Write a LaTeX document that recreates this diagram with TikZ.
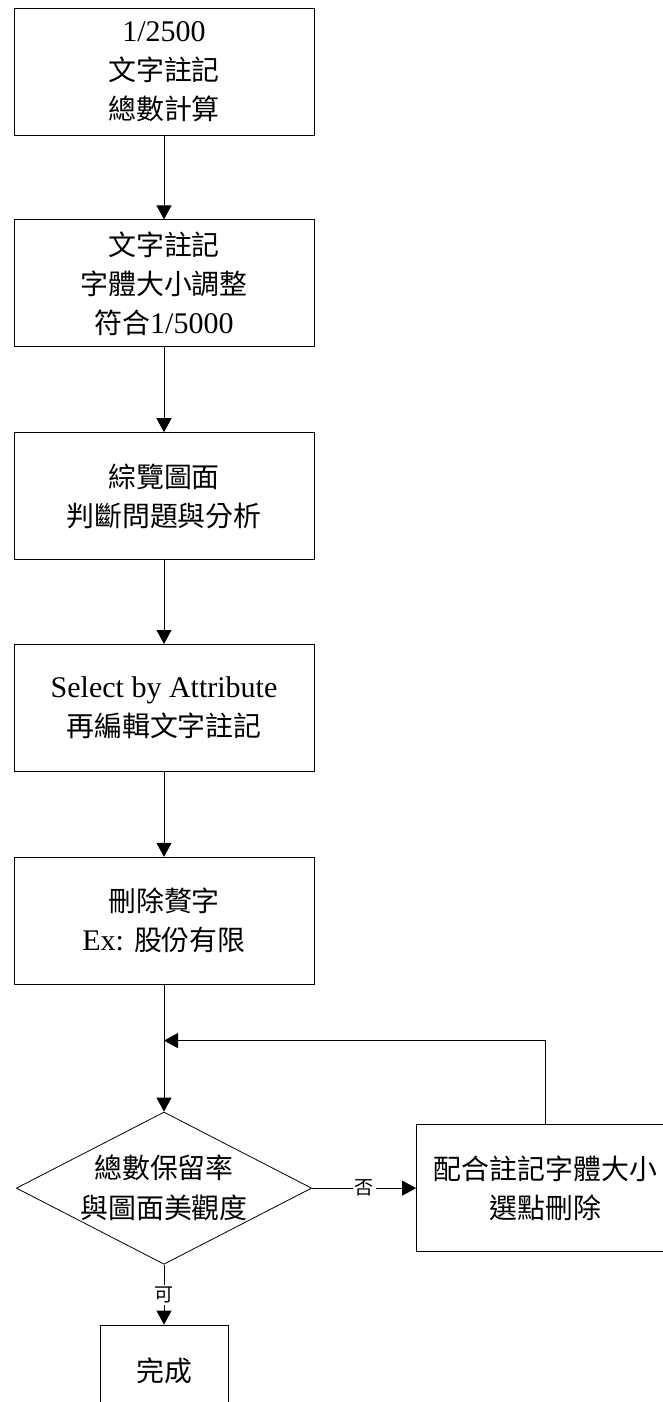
\documentclass[tikz,border=0pt]{standalone}
\usepackage{fontspec}
\setmainfont{Liberation Serif}
\newfontfamily\cjk[Scale=0.93]{Noto Sans CJK TC}
\usetikzlibrary{shapes.geometric,arrows.meta,positioning}

\begin{document}
\begin{tikzpicture}[
    box/.style={rectangle, draw=black, align=center, line width=0.8pt, minimum width=300pt, minimum height=127pt, inner sep=0pt, font=\fontsize{30pt}{39pt}\selectfont},
    decision/.style={diamond, draw=black, align=center, line width=0.8pt, minimum width=295pt, minimum height=152pt, shape aspect=1.94, inner sep=0pt, font=\fontsize{30pt}{40pt}\selectfont},
    tag/.style={fill=white, inner sep=2pt, font=\cjk\fontsize{20.5pt}{20.5pt}\selectfont},
    arrow/.style={-{Triangle[length=14pt,width=15pt]}, line width=0.8pt, draw=black}
]
\useasboundingbox (0,0) rectangle (662pt,-1402pt);

\node[box] (count) at (164pt,-71.5pt) {1/2500\\ {\cjk 文字註記}\\ {\cjk 總數計算}};
\node[box, below=84pt of count] (resize) {{\cjk 文字註記}\\ {\cjk 字體大小調整}\\ {\cjk 符合}1/5000};
\node[box, below=85pt of resize] (review) {{\cjk 綜覽圖面}\\ {\cjk 判斷問題與分析}};
\node[box, below=84pt of review] (select) {Select by Attribute\\ {\cjk 再編輯文字註記}};
\node[box, below=85pt of select] (clean) {{\cjk 刪除贅字}\\ Ex: {\cjk 股份有限}};
\node[decision, below=127pt of clean] (check) {{\cjk 總數保留率}\\ {\cjk 與圖面美觀度}};
\node[box, right=104pt of check, minimum width=258pt] (fix) {{\cjk 配合註記字體大小}\\ {\cjk 選點刪除}};
\node[box, below=60pt of check, minimum width=128pt, minimum height=92pt] (done) {{\cjk 完成}};
\coordinate[below=56pt of clean] (join);

\draw[arrow] (count) -- (resize);
\draw[arrow] (resize) -- (review);
\draw[arrow] (review) -- (select);
\draw[arrow] (select) -- (clean);
\draw[arrow] (clean) -- (check);
\draw[arrow] (check) -- node[tag] {否} (fix);
\draw[arrow] (fix.north) |- (join);
\draw[arrow] (check) -- node[tag] {可} (done);
\end{tikzpicture}
\end{document}
